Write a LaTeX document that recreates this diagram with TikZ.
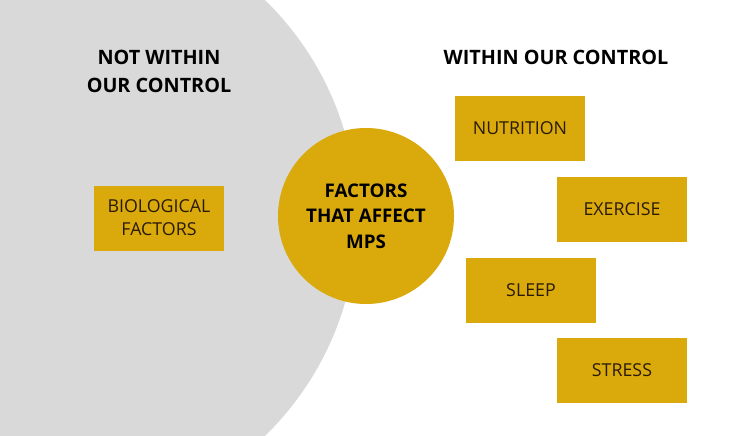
\documentclass[tikz,border=0pt]{standalone}
\usepackage{fontspec}
\setmainfont{Open Sans}
\usepackage{xcolor}
\definecolor{mustard}{HTML}{DAAA0C}
\definecolor{fog}{HTML}{D9D9D9}
\definecolor{ink}{HTML}{2A1A08}
\tikzset{
  factorbox/.style={fill=mustard,text=ink,minimum width=130pt,minimum height=65pt,
                    align=center,inner sep=0pt,font=\fontsize{17.8}{23}\selectfont},
  hub/.style={circle,fill=mustard,text=black,minimum size=176pt,inner sep=0pt,
              align=center,font=\bfseries\fontsize{18.8}{25.5}\selectfont},
  heading/.style={align=center,text=black,font=\bfseries\fontsize{19.8}{28}\selectfont}
}

\begin{document}
\begin{tikzpicture}[x=1pt,y=-1pt]
    \path[use as bounding box,fill=white] (0,0) rectangle (731,436);

    % grey half disc on the left
    \begin{scope}
      \clip (0,0) rectangle (731,436);
      \fill[fog] (53,218) circle (304pt);
    \end{scope}

    \node[heading] (outside) at (159,71) {NOT WITHIN\\OUR CONTROL};
    \node[heading] (inside) at (556,57) {WITHIN OUR CONTROL};

    \node[hub] (mps) at (366,216) {FACTORS\\THAT AFFECT\\MPS};

    \node[factorbox] (bio) at (159,218) {BIOLOGICAL\\FACTORS};
    \node[factorbox] (nutrition) at (520,128.5) {NUTRITION};
    \node[factorbox] (exercise) at (622,209.5) {EXERCISE};
    \node[factorbox] (sleep) at (531,290) {SLEEP};
    \node[factorbox] (stress) at (622,370.5) {STRESS};
  \end{tikzpicture}
\end{document}
